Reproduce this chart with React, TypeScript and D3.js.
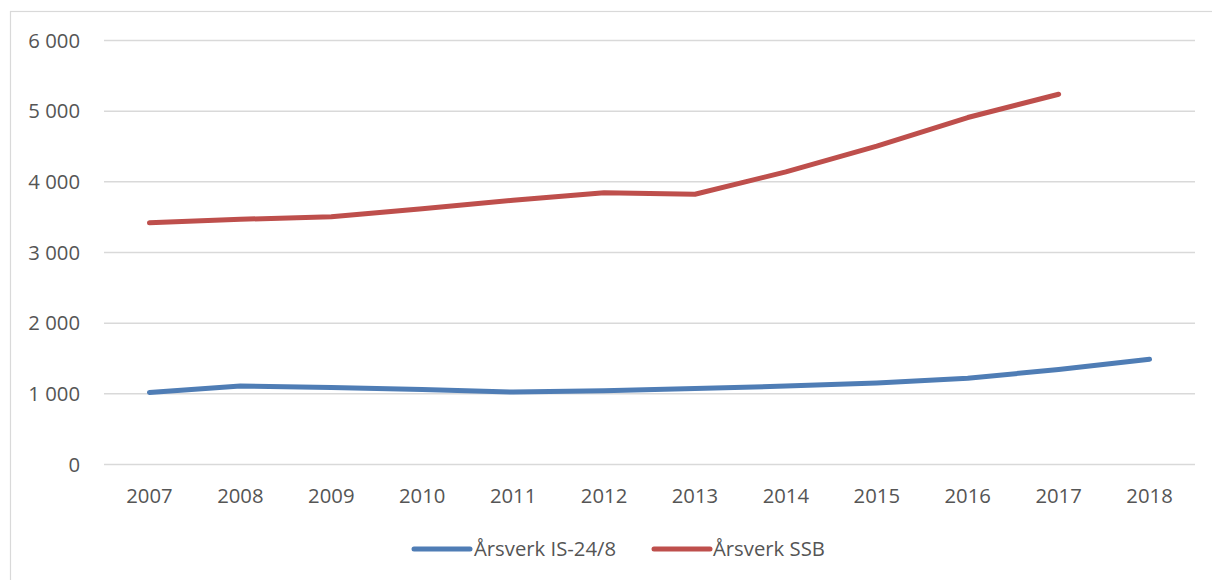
import React from "react";
import * as d3 from "d3";

const years = ["2007","2008","2009","2010","2011","2012","2013","2014","2015","2016","2017","2018"];
const isValues = [1020, 1110, 1090, 1060, 1025, 1045, 1075, 1110, 1155, 1220, 1345, 1490];
const ssbValues = [3420, 3470, 3505, 3620, 3740, 3845, 3825, 4140, 4505, 4910, 5240];
const yTicks = [0, 1000, 2000, 3000, 4000, 5000, 6000];
const seriesNames = ["Årsverk IS-24/8", "Årsverk SSB"];
const seriesColors = ["#4F7DB5", "#BE4F4C"];

const W = 1212, H = 580;
const left = 104, right = 1195, top = 40.5, bottom = 464.5;

const locale = d3.formatLocale({ decimal: ",", thousands: " ", grouping: [3], currency: ["", ""] });
const fmt = locale.format(",d");

export default function App() {
  const x = d3.scaleBand<string>().domain(years).range([left, right]);
  const y = d3.scaleLinear().domain([0, 6000]).range([bottom, top]);
  const cx = (i: number) => (x(years[i]) as number) + x.bandwidth() / 2;
  const line = d3.line<number>().x((_, i) => cx(i)).y((d) => y(d)).curve(d3.curveLinear);
  const series = [isValues, ssbValues];
  const font = "'Open Sans', sans-serif";
  const fs = 20.3;
  const legendItems = [
    { x1: 414, x2: 470, tx: 474 },
    { x1: 654, x2: 710, tx: 713 },
  ];
  return (
    <svg width={W} height={H} style={{ position: "absolute", left: 0, top: 0, background: "#fff" }}>
      <rect x={10.5} y={11.5} width={W + 10} height={H + 10} fill="#fff" stroke="#d9d9d9" strokeWidth={1.2} />
      {yTicks.map((t) => (
        <g key={t}>
          <line x1={left} x2={right} y1={y(t)} y2={y(t)} stroke="#d9d9d9" strokeWidth={1.5} />
          <text x={80} y={y(t) + 7} textAnchor="end" fontFamily={font} fontSize={fs} fill="#555">
            {fmt(t)}
          </text>
        </g>
      ))}
      {years.map((yr, i) => (
        <text key={yr} x={cx(i)} y={503} textAnchor="middle" fontFamily={font} fontSize={fs} fill="#555">
          {yr}
        </text>
      ))}
      {series.map((s, k) => (
        <path key={k} d={line(s) || ""} fill="none" stroke={seriesColors[k]} strokeWidth={5}
          strokeLinecap="round" strokeLinejoin="round" />
      ))}
      {legendItems.map((l, k) => (
        <g key={k}>
          <line x1={l.x1} x2={l.x2} y1={549} y2={549} stroke={seriesColors[k]} strokeWidth={5} strokeLinecap="round" />
          <text x={l.tx} y={556} fontFamily={font} fontSize={fs} fill="#555">{seriesNames[k]}</text>
        </g>
      ))}
    </svg>
  );
}
